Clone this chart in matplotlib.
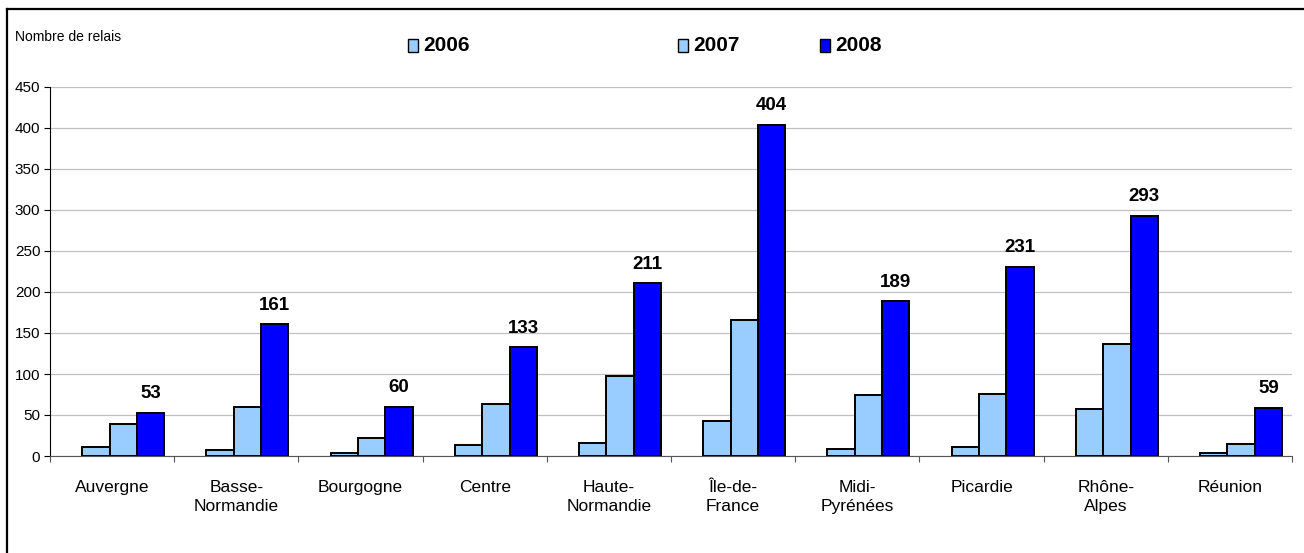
import matplotlib
matplotlib.use("Agg")
import matplotlib.pyplot as plt
from matplotlib.lines import Line2D
from matplotlib.patches import Rectangle
import numpy as np

plt.rcParams['font.family'] = ['Liberation Sans', 'DejaVu Sans']

# Data
regions = ["Auvergne", "Basse-\nNormandie", "Bourgogne", "Centre", "Haute-\nNormandie",
           "Île-de-\nFrance", "Midi-\nPyrénées", "Picardie", "Rhône-\nAlpes", "Réunion"]
years = ["2006", "2007", "2008"]
v2006 = [11, 7, 4, 14, 16, 43, 9, 11, 57, 4]
v2007 = [39, 60, 22, 64, 98, 166, 75, 76, 137, 15]
v2008 = [53, 161, 60, 133, 211, 404, 189, 231, 293, 59]
yticks = [0, 50, 100, 150, 200, 250, 300, 350, 400, 450]

colors = ["#99CCFF", "#99CCFF", "#0000FF"]
offsets = [-0.13, 0.09, 0.31]
bar_w = 0.22

fig = plt.figure(figsize=(13.04, 5.53), dpi=100)
ax = fig.add_axes([50 / 1304, 1 - 456 / 553, 1242 / 1304, 369 / 553])

x = np.arange(len(regions))
for vals, col, off in zip([v2006, v2007, v2008], colors, offsets):
    ax.bar(x + off, vals, width=bar_w, color=col, edgecolor="black", linewidth=1.4, zorder=3)

# labels on top of the 2008 bars
for xi, v in zip(x, v2008):
    ax.annotate(str(v), (xi + offsets[2], v), xytext=(0, 7.5), textcoords="offset points",
                ha="center", va="bottom", fontsize=13.5, fontweight="bold")

ax.set_xlim(-0.5, len(regions) - 0.5)
ax.set_ylim(0, 450)
ax.set_yticks(yticks)
ax.tick_params(axis="y", direction="out", length=4, width=0.8, labelsize=11, pad=3)
ax.yaxis.grid(True, color="#c0c0c0", linewidth=0.9, zorder=0)
ax.set_axisbelow(True)

ax.set_xticks(np.arange(len(regions) + 1) - 0.5)
ax.set_xticklabels([])
ax.tick_params(axis="x", which="major", direction="out", length=4, width=0.8, color="#555555")
ax.set_xticks(x, minor=True)
ax.set_xticklabels(regions, minor=True, fontsize=12.5, linespacing=1.35)
ax.tick_params(axis="x", which="minor", length=0, pad=17)

for s in ["top", "right"]:
    ax.spines[s].set_visible(False)
ax.spines["left"].set_linewidth(0.8)
ax.spines["bottom"].set_linewidth(0.8)
ax.spines["bottom"].set_color("#555555")

fig.text(15 / 1304, 1 - 37 / 553, "Nombre de relais", fontsize=10, va="center")

# legend, hand placed like in the original
leg_x = [408, 678, 820]
for lx, lab, col in zip(leg_x, years, colors):
    fig.patches.append(Rectangle((lx / 1304, 1 - 52 / 553), 10 / 1304, 13 / 553,
                                 transform=fig.transFigure, facecolor=col,
                                 edgecolor="black", linewidth=1.0))
    fig.text((lx + 15) / 1304, 1 - 45.5 / 553, lab, fontsize=15, fontweight="bold", va="center")

# outer frame (only left and top visible)
fig.lines.append(Line2D([7 / 1304, 7 / 1304], [0, 1 - 8.5 / 553], transform=fig.transFigure,
                        color="black", linewidth=1.6))
fig.lines.append(Line2D([7 / 1304, 1], [1 - 8.5 / 553, 1 - 8.5 / 553], transform=fig.transFigure,
                        color="black", linewidth=1.6))

fig.savefig("out.png", dpi=100)
